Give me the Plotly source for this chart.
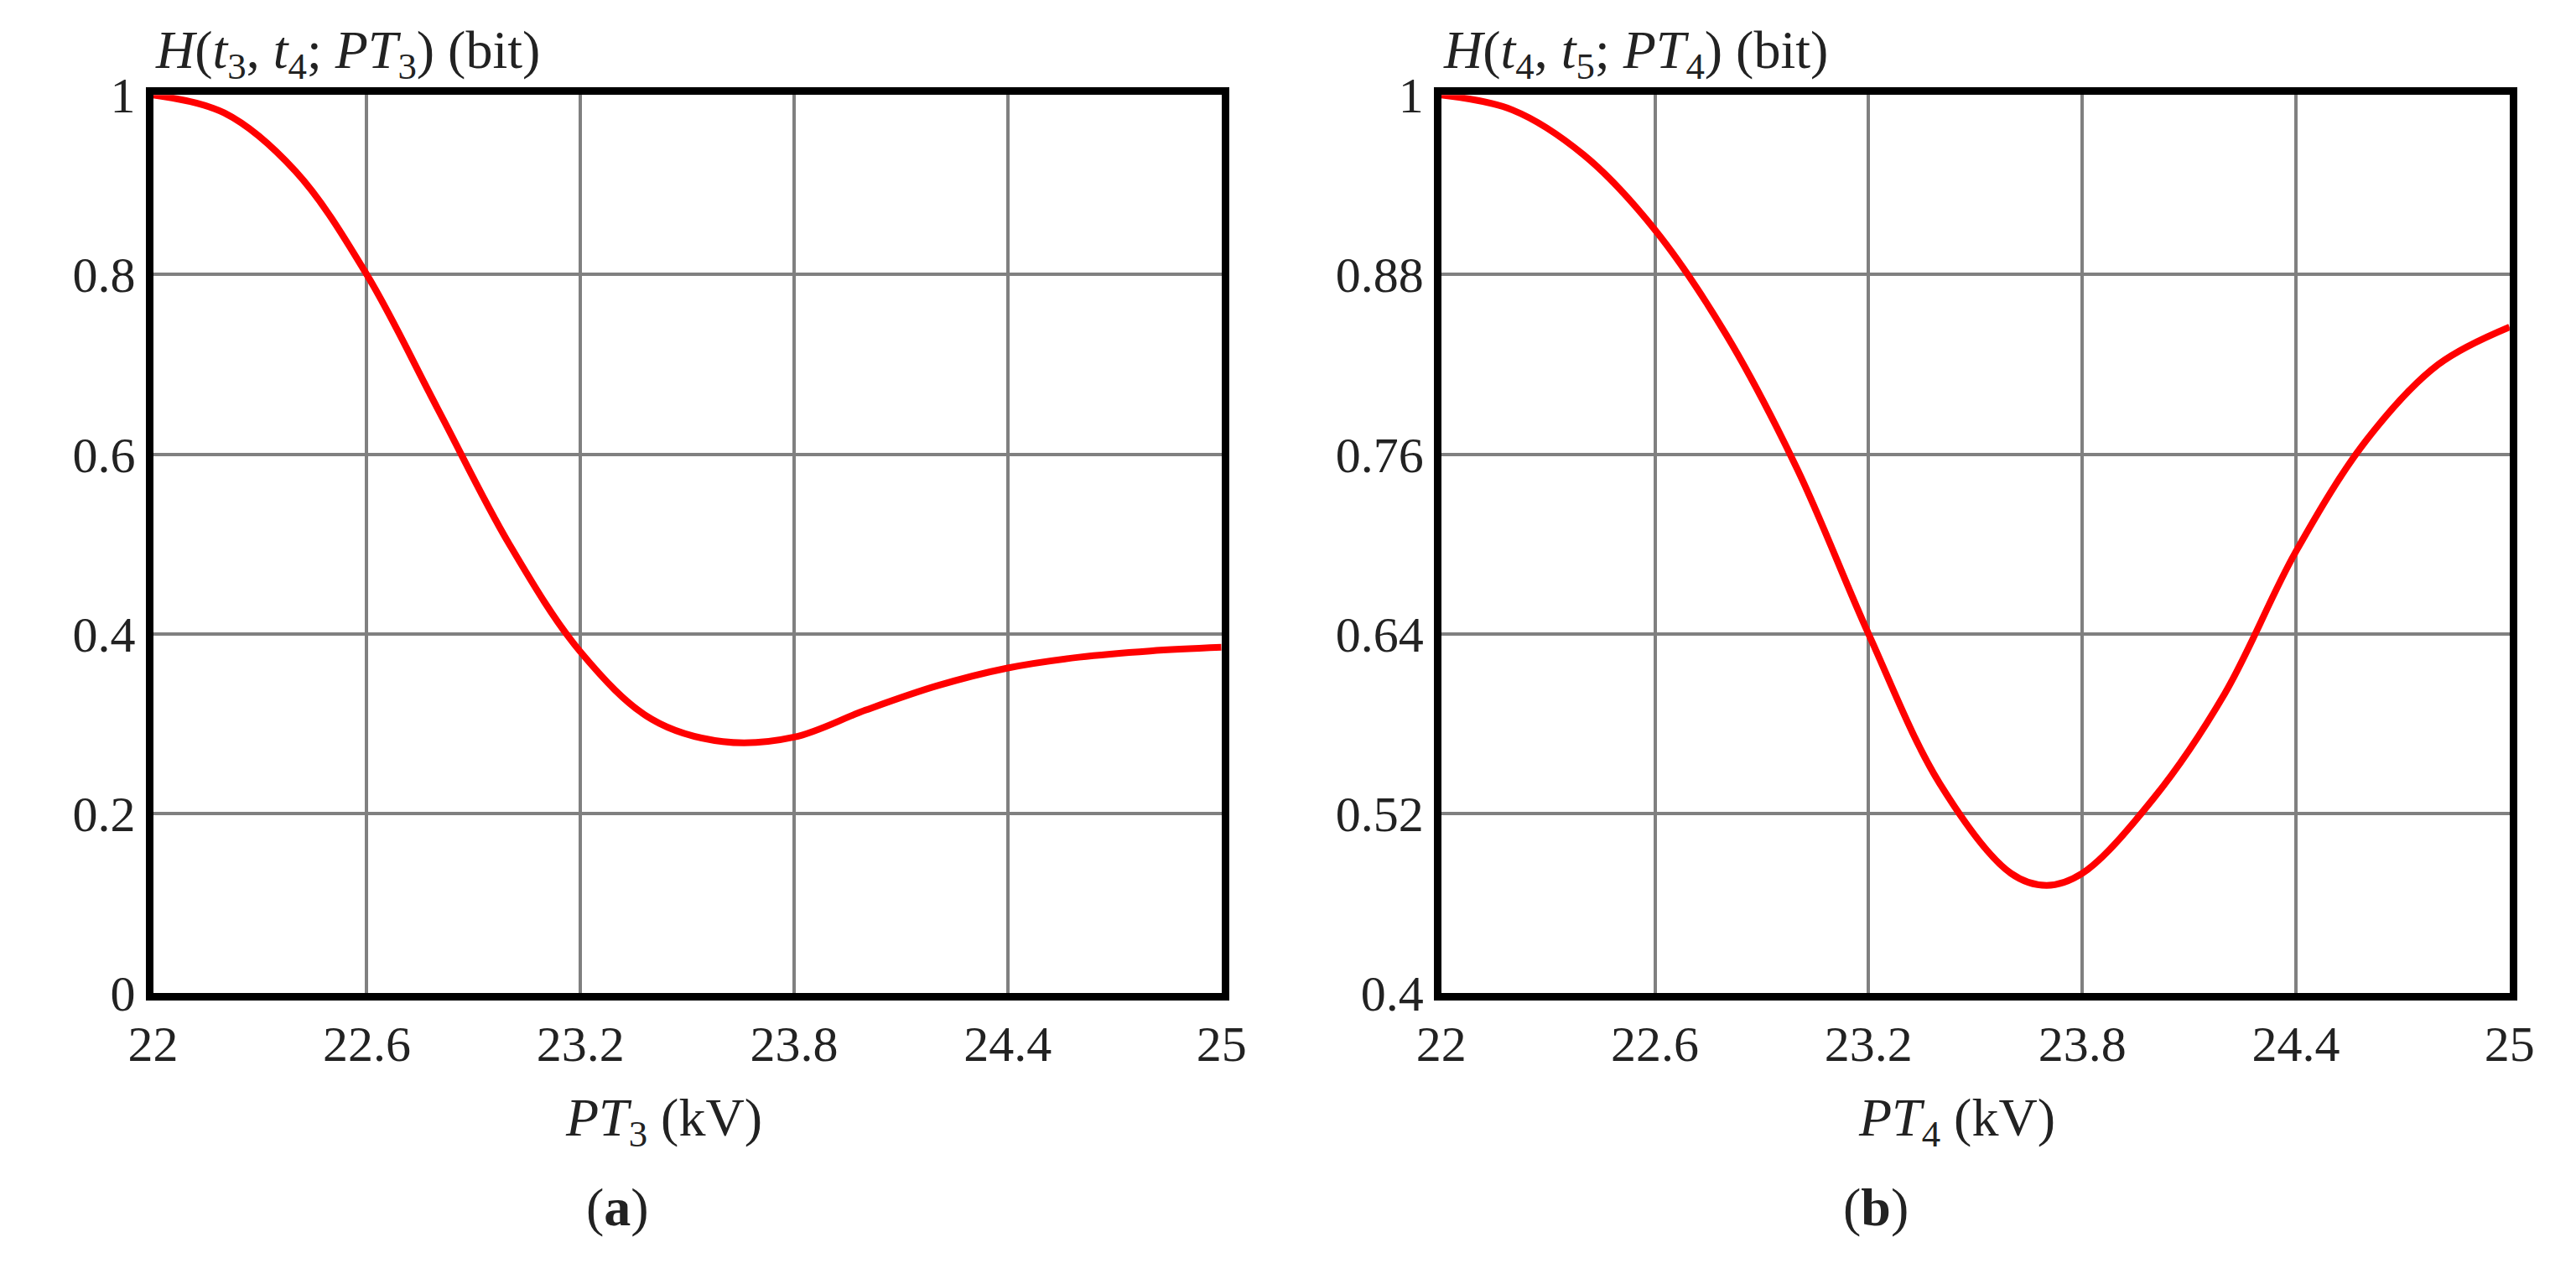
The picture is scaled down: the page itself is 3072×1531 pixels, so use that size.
import plotly.graph_objects as go

x_a = [22, 22.2, 22.4, 22.6, 22.8, 23.0, 23.2, 23.4, 23.6, 23.8, 24.0, 24.2, 24.4, 24.6, 24.8, 25]
y_a = [1.0, 0.98, 0.915, 0.8, 0.65, 0.5, 0.38, 0.305, 0.28, 0.285, 0.315, 0.342, 0.362, 0.374, 0.381, 0.385]
x_b = [22, 22.2, 22.4, 22.6, 22.8, 23.0, 23.2, 23.4, 23.6, 23.7, 23.8, 24.0, 24.2, 24.4, 24.6, 24.8, 25]
y_b = [1.0, 0.99, 0.96, 0.91, 0.84, 0.75, 0.64, 0.54, 0.48, 0.472, 0.48, 0.53, 0.6, 0.695, 0.77, 0.82, 0.845]
x_ticks = [22, 22.6, 23.2, 23.8, 24.4, 25]
y_ticks_a = [0, 0.2, 0.4, 0.6, 0.8, 1]
y_ticks_b = [0.4, 0.52, 0.64, 0.76, 0.88, 1]

FONT = "Liberation Serif"
fig = go.Figure()
fig.add_trace(go.Scatter(x=x_a, y=y_a, mode="lines", line=dict(color="#ff0000", width=8, shape="spline"), xaxis="x", yaxis="y", cliponaxis=False))
fig.add_trace(go.Scatter(x=x_b, y=y_b, mode="lines", line=dict(color="#ff0000", width=8, shape="spline"), xaxis="x2", yaxis="y2", cliponaxis=False))

common = dict(showline=True, linecolor="black", linewidth=9, mirror=True, showgrid=True,
              gridcolor="#808080", gridwidth=4, zeroline=False, ticks="", ticklen=0,
              tickfont=dict(family=FONT, size=60, color="#222"))
fig.update_layout(
    width=3072, height=1531, paper_bgcolor="white", plot_bgcolor="white", showlegend=False,
    margin=dict(l=0, r=0, t=0, b=0),
    xaxis=dict(domain=[0.048, 0.471], range=[22, 25], tickvals=x_ticks, ticktext=[str(t) for t in x_ticks], anchor="y", **common),
    yaxis=dict(domain=[0.219, 0.95], range=[0, 1], tickvals=y_ticks_a, ticktext=["0", "0.2", "0.4", "0.6", "0.8", "1"], anchor="x", **common),
    xaxis2=dict(domain=[0.558, 0.981], range=[22, 25], tickvals=x_ticks, ticktext=[str(t) for t in x_ticks], anchor="y2", **common),
    yaxis2=dict(domain=[0.219, 0.95], range=[0.4, 1], tickvals=y_ticks_b, ticktext=["0.4", "0.52", "0.64", "0.76", "0.88", "1"], anchor="x2", **common),
)
f = dict(family=FONT, size=64, color="#222")
ann = [
    (0.048, 0.955, "<i>H</i>(<i>t</i><sub>3</sub>, <i>t</i><sub>4</sub>; <i>PT</i><sub>3</sub>) (bit)", "left", "bottom"),
    (0.558, 0.955, "<i>H</i>(<i>t</i><sub>4</sub>, <i>t</i><sub>5</sub>; <i>PT</i><sub>4</sub>) (bit)", "left", "bottom"),
    (0.25, 0.115, "<i>PT</i><sub>3</sub> (kV)", "center", "middle"),
    (0.762, 0.115, "<i>PT</i><sub>4</sub> (kV)", "center", "middle"),
    (0.232, 0.045, "(<b>a</b>)", "center", "middle"),
    (0.73, 0.045, "(<b>b</b>)", "center", "middle"),
]
for x, y, t, xa, ya in ann:
    fig.add_annotation(x=x, y=y, xref="paper", yref="paper", text=t, showarrow=False,
                       xanchor=xa, yanchor=ya, font=f)
fig.write_html("out.html")
